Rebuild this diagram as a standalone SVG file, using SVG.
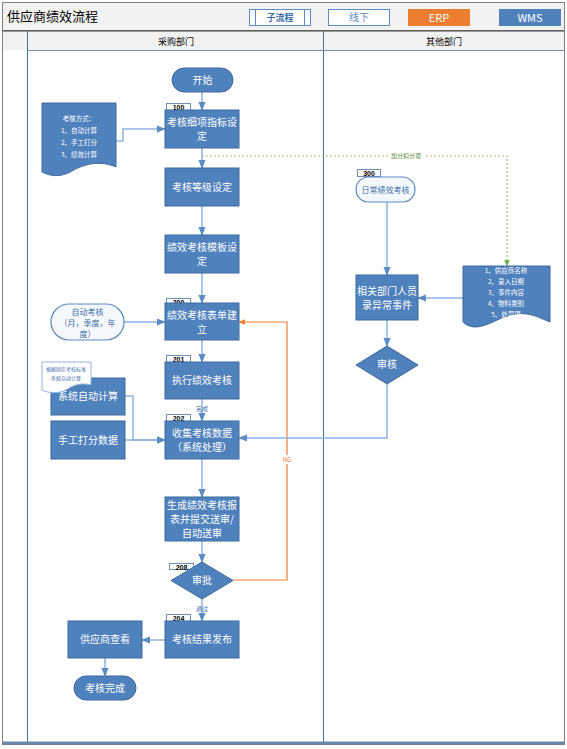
<svg xmlns="http://www.w3.org/2000/svg" width="567" height="749" viewBox="0 0 567 749">
<defs>
<style>
text{font-family:"Noto Sans CJK SC","Liberation Sans",sans-serif;}
.box{fill:#4F81BD;stroke:#3D6A9E;stroke-width:1;}
.bt{fill:#fff;font-size:10px;text-anchor:middle;}
.dt{fill:#fff;font-size:6.5px;text-anchor:middle;}
.tag{fill:#fff;stroke:#6F8FB5;stroke-width:1;}
.tt{fill:#000;font-size:7px;text-anchor:middle;font-family:"Liberation Sans",sans-serif;font-weight:bold;}
.pillw{fill:#F4F8FC;stroke:#5B8BC3;stroke-width:1.2;}
.wt{fill:#3E6EA8;font-size:8px;text-anchor:middle;}
.con{fill:none;stroke:#8DB3E2;stroke-width:1.5;}
.lane{fill:none;stroke:#41719C;stroke-width:1;}
</style>
<marker id="ab" viewBox="0 0 10 10" refX="9" refY="5" markerWidth="6" markerHeight="6" orient="auto"><path d="M0,1 L10,5 L0,9 Z" fill="#5B8BC3"/></marker>
<marker id="ao" viewBox="0 0 10 10" refX="9" refY="5" markerWidth="6" markerHeight="6" orient="auto"><path d="M0,1 L10,5 L0,9 Z" fill="#ED7D31"/></marker>
<marker id="ag" viewBox="0 0 10 10" refX="9" refY="5" markerWidth="6" markerHeight="6" orient="auto"><path d="M0,1 L10,5 L0,9 Z" fill="#70AD47"/></marker>
</defs>
<rect x="0" y="0" width="567" height="749" fill="#fff"/>
<g id="frame">
<rect x="2.5" y="2.5" width="562" height="742" fill="none" stroke="#7F7F7F" stroke-width="1"/>
<rect x="2.5" y="2.5" width="562" height="28" fill="#F2F2F2" stroke="#7F7F7F"/>
<text x="7" y="21" font-size="13" fill="#000">供应商绩效流程</text>
<rect x="3" y="31" width="561" height="19" fill="#F2F2F2"/>
<line x1="3" y1="31" x2="564" y2="31" stroke="#404040"/>
<line x1="27.5" y1="31" x2="27.5" y2="744" class="lane"/>
<line x1="323.5" y1="31" x2="323.5" y2="744" class="lane"/>
<line x1="27" y1="50.5" x2="564" y2="50.5" stroke="#6F8FB5"/>
<line x1="3" y1="743" x2="564" y2="743" stroke="#6A86A8" stroke-width="3"/>
<text x="176" y="45" font-size="9" text-anchor="middle" fill="#000">采购部门</text>
<text x="444" y="45" font-size="9" text-anchor="middle" fill="#000">其他部门</text>
</g>
<g id="legend">
<rect x="249.5" y="9.5" width="61" height="16" fill="#fff" stroke="#5B8BC3"/>
<line x1="255.5" y1="9.5" x2="255.5" y2="25.5" stroke="#5B8BC3"/>
<line x1="304.5" y1="9.5" x2="304.5" y2="25.5" stroke="#5B8BC3"/>
<text x="280" y="21" font-size="9" text-anchor="middle" fill="#3E6EA8" font-weight="bold">子流程</text>
<rect x="328.5" y="9.5" width="61" height="16" fill="#fff" stroke="#5B8BC3"/>
<text x="359" y="21" font-size="10" text-anchor="middle" fill="#5B8BC3">线下</text>
<rect x="408" y="9" width="62" height="17" fill="#ED7D31"/>
<text x="439" y="22" font-size="11" text-anchor="middle" fill="#fff" font-family="Liberation Sans,sans-serif">ERP</text>
<rect x="499" y="9" width="62" height="17" fill="#4F81BD"/>
<text x="530" y="22" font-size="11" text-anchor="middle" fill="#fff" font-family="Liberation Sans,sans-serif">WMS</text>
</g>
<g id="connectors">
<line x1="202" y1="92" x2="202" y2="110" class="con" marker-end="url(#ab)"/>
<polyline points="116,141 123,141 123,129 165,129" class="con" marker-end="url(#ab)"/>
<line x1="202" y1="148" x2="202" y2="168" class="con" marker-end="url(#ab)"/>
<line x1="202" y1="206" x2="202" y2="235" class="con" marker-end="url(#ab)"/>
<line x1="202" y1="273" x2="202" y2="303" class="con" marker-end="url(#ab)"/>
<line x1="124" y1="322" x2="165" y2="322" class="con" marker-end="url(#ab)"/>
<line x1="202" y1="340" x2="202" y2="362" class="con" marker-end="url(#ab)"/>
<line x1="202" y1="399" x2="202" y2="421" class="con" marker-end="url(#ab)"/>
<text x="202" y="411" font-size="6" text-anchor="middle" fill="#3E6EA8">完成</text>
<polyline points="125,396 133,396 133,440 165,440" class="con" marker-end="url(#ab)"/>
<line x1="125" y1="440" x2="165" y2="440" class="con" marker-end="url(#ab)"/>
<line x1="202" y1="459" x2="202" y2="497" class="con" marker-end="url(#ab)"/>
<line x1="202" y1="541" x2="202" y2="562" class="con" marker-end="url(#ab)"/>
<line x1="202" y1="599" x2="202" y2="621" class="con" marker-end="url(#ab)"/>
<text x="202" y="611" font-size="6" text-anchor="middle" fill="#3E6EA8">通过</text>
<polyline points="233,580 287,580 287,322 239,322" fill="none" stroke="#ED7D31" stroke-width="1.2" marker-end="url(#ao)"/>
<rect x="281" y="455" width="12" height="9" fill="#fff"/>
<text x="287" y="462" font-size="6" text-anchor="middle" fill="#ED7D31">NG</text>
<line x1="165" y1="640" x2="142" y2="640" class="con" marker-end="url(#ab)"/>
<line x1="105" y1="658" x2="105" y2="676" class="con" marker-end="url(#ab)"/>
<polyline points="202,156 507,156 507,266" fill="none" stroke="#9BCB6E" stroke-width="1.2" stroke-dasharray="2,2" marker-end="url(#ag)"/>
<rect x="388" y="151" width="36" height="9" fill="#fff"/>
<text x="406" y="158" font-size="6" text-anchor="middle" fill="#548235">加分扣分项</text>
<line x1="387" y1="202" x2="387" y2="275" class="con" marker-end="url(#ab)"/>
<line x1="463" y1="298" x2="418" y2="298" class="con" marker-end="url(#ab)"/>
<line x1="387" y1="320" x2="387" y2="346" class="con" marker-end="url(#ab)"/>
<polyline points="387,384 387,438 239,438" class="con" marker-end="url(#ab)"/>
</g>
<g id="n-start">
<rect x="172" y="68" width="61" height="24" rx="12" class="box"/>
<text x="202.5" y="84" class="bt">开始</text>
</g>
<g id="n-doc-method">
<path d="M42,103 H116 V167 C100,160 84,164 72,171 C60,178 50,176 42,172 Z" class="box"/>
<text x="79" y="121" class="dt" font-size="7">考核方式：</text>
<text x="79" y="133" class="dt" font-size="7">1、自动计算</text>
<text x="79" y="145" class="dt" font-size="7">2、手工打分</text>
<text x="79" y="157" class="dt" font-size="7">3、绩效计算</text>
</g>
<g id="n-100">
<rect x="166.5" y="103.5" width="24" height="7" class="tag"/>
<text x="178.5" y="110" class="tt">100</text>
<rect x="165" y="110" width="74" height="38" class="box"/>
<text x="202" y="126" class="bt">考核细项指标设</text>
<text x="202" y="140" class="bt">定</text>
</g>
<g id="n-level">
<rect x="165" y="168" width="74" height="38" class="box"/>
<text x="202" y="191" class="bt">考核等级设定</text>
</g>
<g id="n-template">
<rect x="165" y="235" width="74" height="38" class="box"/>
<text x="202" y="251" class="bt">绩效考核模板设</text>
<text x="202" y="265" class="bt">定</text>
</g>
<g id="n-auto">
<rect x="51" y="304" width="73" height="36" rx="18" class="pillw"/>
<text x="87.5" y="315" class="wt">自动考核</text>
<text x="87.5" y="326" class="wt">（月，季度，年</text>
<text x="87.5" y="337" class="wt">度）</text>
</g>
<g id="n-200">
<rect x="166.5" y="298.5" width="24" height="6" class="tag"/>
<text x="178.5" y="304.5" class="tt">200</text>
<rect x="165" y="303" width="74" height="37" class="box"/>
<text x="202" y="319" class="bt">绩效考核表单建</text>
<text x="202" y="333" class="bt">立</text>
</g>
<g id="n-201">
<rect x="166.5" y="355.5" width="24" height="7" class="tag"/>
<text x="178.5" y="362" class="tt">201</text>
<rect x="165" y="362" width="74" height="37" class="box"/>
<text x="202" y="384" class="bt">执行绩效考核</text>
</g>
<g id="n-sysauto">
<rect x="51" y="378" width="74" height="37" class="box"/>
<text x="88" y="400" class="bt">系统自动计算</text>
</g>
<g id="n-smalldoc">
<path d="M42,362 H91 V385 C80,382 72,386 66,390 C58,394 48,393 42,390 Z" fill="#fff" stroke="#8DB3E2" stroke-width="1"/>
<text x="66" y="371" font-size="5" text-anchor="middle" fill="#3E6EA8">根据固定考核标准</text>
<text x="66" y="380" font-size="5" text-anchor="middle" fill="#3E6EA8">系统自动计算</text>
</g>
<g id="n-manual">
<rect x="51" y="421" width="74" height="38" class="box"/>
<text x="88" y="444" class="bt">手工打分数据</text>
</g>
<g id="n-202">
<rect x="166.5" y="414.5" width="24" height="7" class="tag"/>
<text x="178.5" y="421" class="tt">202</text>
<rect x="165" y="421" width="74" height="38" class="box"/>
<text x="202" y="437" class="bt">收集考核数据</text>
<text x="202" y="451" class="bt">（系统处理）</text>
</g>
<g id="n-report">
<rect x="165" y="497" width="74" height="44" class="box"/>
<text x="202" y="509" class="bt" font-size="9.5">生成绩效考核报</text>
<text x="202" y="523" class="bt" font-size="9.5">表并提交送审/</text>
<text x="202" y="537" class="bt" font-size="9.5">自动送审</text>
</g>
<g id="n-208">
<rect x="169.5" y="563.5" width="24" height="6" class="tag"/>
<text x="181.5" y="569.5" class="tt">208</text>
<polygon points="202,562 233,580.5 202,599 171,580.5" class="box"/>
<text x="202" y="584" class="bt" font-size="8">审批</text>
</g>
<g id="n-204">
<rect x="166.5" y="614.5" width="24" height="7" class="tag"/>
<text x="178.5" y="621" class="tt">204</text>
<rect x="165" y="621" width="74" height="37" class="box"/>
<text x="202" y="643" class="bt">考核结果发布</text>
</g>
<g id="n-view">
<rect x="68" y="621" width="74" height="37" class="box"/>
<text x="105" y="643" class="bt">供应商查看</text>
</g>
<g id="n-end">
<rect x="74" y="676" width="62" height="24" rx="12" class="box"/>
<text x="105" y="692" class="bt" font-size="8">考核完成</text>
</g>
<g id="n-300">
<rect x="357.5" y="169.5" width="23" height="7" class="tag"/>
<text x="369" y="176" class="tt">300</text>
<rect x="356" y="177" width="59" height="25" rx="12.5" class="pillw"/>
<text x="385.5" y="193" class="wt">日常绩效考核</text>
</g>
<g id="n-record">
<rect x="356" y="275" width="62" height="45" class="box"/>
<text x="387" y="295" class="bt">相关部门人员</text>
<text x="387" y="309" class="bt">录异常事件</text>
</g>
<g id="n-doc-fields">
<path d="M463,266 H550 V322 C540,318 530,312 516,314 C500,316 490,326 476,327 C470,327 466,325 463,322 Z" class="box"/>
<text x="506" y="273" class="dt">1、供应商名称</text>
<text x="506" y="284" class="dt">2、录入日期</text>
<text x="506" y="295" class="dt">3、事件内容</text>
<text x="506" y="306" class="dt">4、物料类别</text>
<text x="506" y="317" class="dt">5、处罚项</text>
</g>
<g id="n-check">
<polygon points="387,346 418,365 387,384 356,365" class="box"/>
<text x="387" y="368" class="bt" font-size="7">审核</text>
</g>
</svg>
